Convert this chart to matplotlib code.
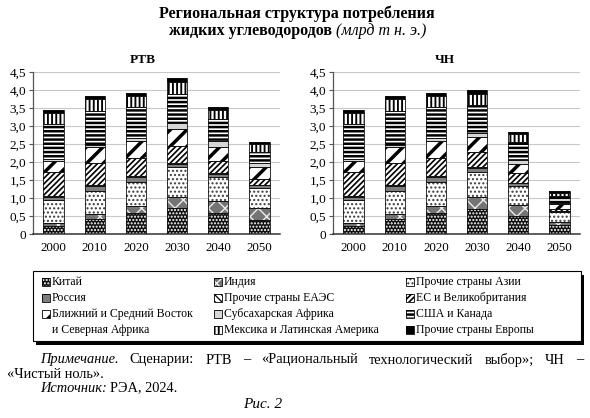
import matplotlib
matplotlib.use('Agg')
import matplotlib.pyplot as plt
from matplotlib.patches import Rectangle
import numpy as np

# ---------------- data ----------------
years = ['2000', '2010', '2020', '2030', '2040', '2050']
ytick_vals = [0, 0.5, 1.0, 1.5, 2.0, 2.5, 3.0, 3.5, 4.0, 4.5]
ytick_labels = ['0', '0,5', '1,0', '1,5', '2,0', '2,5', '3,0', '3,5', '4,0', '4,5']
panel_titles = ['РТВ', 'ЧН']

region_names = ['Китай', 'Индия', 'Прочие страны Азии', 'Россия',
                'Прочие страны ЕАЭС', 'ЕС и Великобритания',
                'Ближний и Средний Восток', 'Субсахарская Африка',
                'США и Канада', 'Мексика и Латинская Америка',
                'Прочие страны Европы']

# РТВ scenario (млрд т н. э.)
china_rtv  = [0.22, 0.42, 0.57, 0.73, 0.59, 0.40]
india_rtv  = [0.09, 0.14, 0.21, 0.30, 0.33, 0.32]
asia_rtv   = [0.63, 0.64, 0.66, 0.82, 0.67, 0.55]
russia_rtv = [0.10, 0.13, 0.15, 0.10, 0.09, 0.08]
eaeu_rtv   = [0.02, 0.02, 0.03, 0.03, 0.02, 0.02]
eu_rtv     = [0.67, 0.63, 0.50, 0.47, 0.33, 0.15]
mena_rtv   = [0.30, 0.43, 0.45, 0.46, 0.38, 0.33]
ssa_rtv    = [0.05, 0.05, 0.11, 0.17, 0.16, 0.12]
usc_rtv    = [0.98, 0.95, 0.84, 0.80, 0.62, 0.32]
latam_rtv  = [0.31, 0.34, 0.32, 0.35, 0.25, 0.21]
oeur_rtv   = [0.07, 0.08, 0.09, 0.10, 0.10, 0.06]

# ЧН scenario (млрд т н. э.)
china_chn  = [0.22, 0.42, 0.57, 0.69, 0.50, 0.25]
india_chn  = [0.09, 0.14, 0.21, 0.33, 0.31, 0.07]
asia_chn   = [0.63, 0.64, 0.66, 0.71, 0.52, 0.29]
russia_chn = [0.10, 0.13, 0.15, 0.10, 0.08, 0.02]
eaeu_chn   = [0.02, 0.02, 0.03, 0.02, 0.02, 0.01]
eu_chn     = [0.67, 0.63, 0.50, 0.44, 0.26, 0.05]
mena_chn   = [0.30, 0.43, 0.45, 0.41, 0.25, 0.14]
ssa_chn    = [0.05, 0.05, 0.11, 0.11, 0.12, 0.04]
usc_chn    = [0.98, 0.95, 0.84, 0.77, 0.50, 0.18]
latam_chn  = [0.31, 0.34, 0.32, 0.31, 0.22, 0.09]
oeur_chn   = [0.07, 0.08, 0.09, 0.11, 0.06, 0.05]

rtv = [china_rtv, india_rtv, asia_rtv, russia_rtv, eaeu_rtv, eu_rtv,
       mena_rtv, ssa_rtv, usc_rtv, latam_rtv, oeur_rtv]
chn = [china_chn, india_chn, asia_chn, russia_chn, eaeu_chn, eu_chn,
       mena_chn, ssa_chn, usc_chn, latam_chn, oeur_chn]

# ---------------- styles: (face, hatch, hatch colour, hatch lw) ----------------
styles = [
    ('#101010', '.....', '#ffffff', 1.0),    # Китай
    ('#747474', 'xx', '#ececec', 1.0),       # Индия
    ('#ffffff', '....', '#3c3c3c', 1.0),     # Прочие Азии
    ('#7d7d7d', None, None, 1.0),            # Россия
    ('#ffffff', '\\\\\\\\\\', '#000000', 0.9),  # ЕАЭС
    ('#ffffff', '//////', '#000000', 1.2),   # ЕС
    ('#ffffff', '//', '#000000', 2.5),       # БСВ
    ('#d6d6d6', None, None, 1.0),            # Субсахарская
    ('#ffffff', '----', '#000000', 1.8),     # США
    ('#ffffff', '||||', '#000000', 1.35),    # Латинская Америка
    ('#000000', None, None, 1.0),            # Прочие Европы
]

SERIF = ['Liberation Serif', 'DejaVu Serif']
plt.rcParams['font.family'] = SERIF

W, H = 590, 418
fig = plt.figure(figsize=(W / 100, H / 100), dpi=100)
fig.patch.set_facecolor('white')


def fx(px):
    return px / W


def fy(py):
    return 1 - py / H


def apply_hatch_lw(patch, lw):
    if hasattr(patch, 'set_hatch_linewidth'):
        patch.set_hatch_linewidth(lw)
    else:
        patch._hatch_linewidth = lw


def draw_panel(ax, data, title_x, title):
    x = np.arange(len(years))
    bottom = np.zeros(len(years))
    for vals, (face, hatch, hcol, hlw) in zip(data, styles):
        vals = np.array(vals)
        with plt.rc_context({'hatch.linewidth': hlw}):
            bars = ax.bar(x, vals, 0.49, bottom=bottom, color=face,
                          edgecolor=hcol if hcol else face, hatch=hatch,
                          linewidth=0, zorder=2)
        for b in bars:
            apply_hatch_lw(b, hlw)
        ax.bar(x, vals, 0.49, bottom=bottom, fill=False,
               edgecolor='#111111', linewidth=0.6, zorder=3)
        bottom = bottom + vals
    ax.set_xlim(-0.5, len(years) - 0.5)
    ax.set_ylim(0, 4.5)
    ax.set_yticks(ytick_vals)
    ax.set_yticklabels(ytick_labels)
    ax.set_xticks(x)
    ax.set_xticklabels(years)
    ax.tick_params(axis='x', length=0, pad=6, labelsize=9.3)
    ax.tick_params(axis='y', length=3, width=0.8, color='#555555', pad=2, labelsize=9.5)
    ax.yaxis.grid(True, color='#c8c8c8', linewidth=0.8, zorder=0)
    ax.set_axisbelow(True)
    for s in ['top', 'right']:
        ax.spines[s].set_visible(False)
    ax.spines['left'].set_color('#555555')
    ax.spines['left'].set_linewidth(0.9)
    ax.spines['bottom'].set_color('#333333')
    ax.spines['bottom'].set_linewidth(1.1)
    fig.text(fx(title_x), fy(60), title, ha='center', va='center',
             fontsize=9.5, fontweight='bold')


axL = fig.add_axes([fx(33), fy(234), 247 / W, 162 / H])
axR = fig.add_axes([fx(333), fy(234), 247 / W, 162 / H])
draw_panel(axL, rtv, 143, panel_titles[0])
draw_panel(axR, chn, 445, panel_titles[1])

renderer = fig.canvas.get_renderer()


def width_px(t):
    return t.get_window_extent(renderer).width

# ---------------- title ----------------
fig.text(fx(297), fy(14), 'Региональная структура потребления', ha='center',
         va='center', fontsize=11.5, fontweight='bold')
t1 = fig.text(0, fy(31), 'жидких углеводородов ', ha='left', va='center',
              fontsize=11.5, fontweight='bold')
t2 = fig.text(0, fy(31), '(млрд т н. э.)', ha='left', va='center',
              fontsize=11.5, fontstyle='italic')
w1, w2 = width_px(t1), width_px(t2)
start = 298 - (w1 + w2) / 2
t1.set_x(fx(start))
t2.set_x(fx(start + w1))

# ---------------- legend ----------------
lx0, ly0, lx1, ly1 = 33, 271, 581, 341
fig.add_artist(Rectangle((fx(lx0 + 3), fy(ly1 + 4)), (lx1 - lx0) / W, (ly1 - ly0) / H,
                         transform=fig.transFigure, facecolor='#000000',
                         edgecolor='none', zorder=1))
fig.add_artist(Rectangle((fx(lx0), fy(ly1)), (lx1 - lx0) / W, (ly1 - ly0) / H,
                         transform=fig.transFigure, facecolor='white',
                         edgecolor='#000000', linewidth=0.8, zorder=2))

LEG_FS = 8.5
col_x = [42, 214, 406]
row_y = [282, 298, 314, 330]
positions = [(0, 0), (1, 0), (2, 0), (0, 1), (1, 1), (2, 1),
             (0, 2), (1, 2), (2, 2), (1, 3), (2, 3)]
hs = 8
for i, (name, (face, hatch, hcol, hlw)) in enumerate(zip(region_names, styles)):
    c, r = positions[i]
    px, py = col_x[c], row_y[r]
    with plt.rc_context({'hatch.linewidth': hlw}):
        p = Rectangle((fx(px), fy(py + hs / 2)), hs / W, hs / H,
                      transform=fig.transFigure, facecolor=face,
                      edgecolor=hcol if hcol else face, hatch=hatch,
                      linewidth=0, zorder=3)
    apply_hatch_lw(p, hlw)
    fig.add_artist(p)
    fig.add_artist(Rectangle((fx(px), fy(py + hs / 2)), hs / W, hs / H,
                             transform=fig.transFigure, fill=False,
                             edgecolor='#000000', linewidth=0.6, zorder=4))
    fig.text(fx(px + 10), fy(py), name, ha='left', va='center',
             fontsize=LEG_FS, zorder=5)
fig.text(fx(col_x[0] + 10), fy(row_y[3]), 'и Северная Африка', ha='left',
         va='center', fontsize=LEG_FS, zorder=5)

# ---------------- notes (justified first line) ----------------
NOTE_FS = 10.4
words = ['Примечание.', 'Сценарии:', 'РТВ', '–', '«Рациональный',
         'технологический', 'выбор»;', 'ЧН', '–']
tx = []
for i, wd in enumerate(words):
    t = fig.text(0, fy(360), wd, ha='left', va='center', fontsize=NOTE_FS,
                 fontstyle='italic' if i == 0 else 'normal')
    tx.append(t)
widths = [width_px(t) for t in tx]
target = 583 - 40
gap = (target - sum(widths)) / (len(words) - 1)
cur = 40
for t, w in zip(tx, widths):
    t.set_x(fx(cur))
    cur += w + gap

fig.text(fx(7), fy(374), '«Чистый ноль».', ha='left', va='center', fontsize=NOTE_FS)
s1 = fig.text(fx(40), fy(388), 'Источник:', ha='left', va='center',
              fontsize=NOTE_FS, fontstyle='italic')
fig.text(fx(40 + width_px(s1) + 3), fy(388), 'РЭА, 2024.', ha='left',
         va='center', fontsize=NOTE_FS)
fig.text(fx(263), fy(405), 'Рис. 2', ha='center', va='center', fontsize=11,
         fontstyle='italic')

fig.savefig('out.png', dpi=100, facecolor='white')
